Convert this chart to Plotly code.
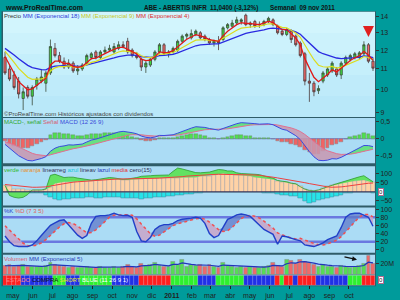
import numpy as np
import pandas as pd
import plotly.graph_objects as go

# ---------------- data ----------------
dates = pd.date_range("2010-04-19", periods=82, freq="7D")

prior_close = [12.6, 12.5, 12.7, 12.4, 12.3, 12.5, 12.4, 12.2, 12.3, 12.4, 12.2, 12.1, 12.3, 12.4, 12.2,
               12.3, 12.1, 12.2, 12.4, 12.3, 12.2, 12.1, 12.3, 12.2, 12.2, 12.3, 12.1, 12.2, 12.3, 12.2]

open_ = [11.6, 11.0, 10.7, 10.4, 9.6, 10.1, 9.7, 10.2, 10.4, 10.3,
         10.8, 12.1, 11.7, 11.4, 11.1, 11.3, 10.9, 11.0, 11.3, 11.6,
         11.9, 11.6, 11.9, 12.0, 11.9, 12.1, 12.3, 12.5, 12.0, 11.7,
         11.5, 11.1, 11.2, 11.5, 11.9, 12.3, 11.8, 11.9, 12.0, 12.5,
         12.8, 12.7, 12.9, 13.0, 12.8, 12.6, 12.4, 12.5, 12.6, 13.3,
         13.4, 13.6, 13.7, 14.1, 13.5, 13.7, 13.5, 13.5, 13.7, 13.8,
         13.4, 13.1, 12.9, 13.1, 12.8, 12.4, 11.8, 10.4, 10.3, 9.95,
         10.4, 10.7, 10.9, 11.0, 10.7, 11.3, 11.5, 11.6, 11.6, 11.8,
         12.3, 11.4]
high = [11.9, 11.2, 10.9, 10.6, 10.1, 10.2, 10.2, 10.6, 11.0, 10.9,
        12.6, 12.4, 11.9, 11.6, 11.5, 11.4, 11.2, 11.3, 11.8, 11.9,
        12.0, 12.0, 12.2, 12.3, 12.4, 12.5, 12.5, 12.7, 12.1, 11.9,
        11.6, 11.4, 11.6, 12.0, 12.4, 12.4, 12.0, 12.2, 12.6, 12.9,
        13.0, 13.2, 13.2, 13.1, 12.9, 12.7, 12.6, 12.8, 13.4, 13.6,
        13.8, 14.0, 13.9, 14.2, 13.7, 13.8, 13.7, 13.8, 14.0, 13.9,
        13.5, 13.2, 13.3, 13.2, 12.9, 12.5, 11.9, 10.8, 10.4, 10.2,
        10.9, 11.1, 11.4, 11.1, 11.4, 11.7, 11.8, 11.9, 11.95, 12.5,
        12.4, 11.6]
low = [10.7, 10.4, 10.0, 9.6, 9.1, 9.6, 9.3, 10.0, 10.3, 9.9,
       10.7, 11.6, 11.3, 11.0, 11.0, 10.8, 10.7, 10.9, 11.2, 11.5,
       11.5, 11.5, 11.8, 11.9, 11.8, 12.0, 12.1, 11.8, 11.6, 11.5,
       10.9, 10.8, 11.1, 11.4, 11.8, 11.7, 11.6, 11.8, 11.9, 12.4,
       12.6, 12.6, 12.8, 12.6, 12.5, 12.3, 12.2, 12.0, 12.5, 13.2,
       13.3, 13.5, 13.5, 13.4, 13.3, 13.3, 13.3, 13.4, 13.6, 13.4,
       12.9, 12.8, 12.8, 12.4, 12.2, 11.6, 10.2, 9.45, 9.7, 9.8,
       10.3, 10.6, 10.8, 10.6, 10.5, 11.2, 11.4, 11.5, 11.5, 11.7,
       11.3, 10.9]
close = [10.8, 10.5, 10.1, 9.8, 9.9, 9.7, 10.1, 10.5, 10.6, 10.8,
         12.2, 11.7, 11.4, 11.1, 11.3, 10.9, 11.0, 11.2, 11.7, 11.8,
         11.6, 11.9, 12.0, 12.1, 12.2, 12.3, 12.2, 11.9, 11.7, 11.6,
         11.1, 11.3, 11.5, 11.9, 12.3, 11.8, 11.9, 12.1, 12.5, 12.8,
         12.9, 12.95, 13.1, 12.7, 12.6, 12.4, 12.5, 12.4, 13.3, 13.5,
         13.6, 13.8, 13.8, 13.5, 13.6, 13.4, 13.5, 13.7, 13.9, 13.5,
         13.0, 12.9, 13.2, 12.6, 12.3, 11.7, 10.4, 10.3, 9.9, 10.05,
         10.8, 11.0, 11.3, 10.7, 11.3, 11.6, 11.7, 11.8, 11.85, 12.3,
         11.4, 11.04]

volume_m = [16, 17, 15, 16, 18, 15, 14, 15, 14, 16,
            22, 18, 16, 14, 13, 15, 13, 12, 14, 13,
            12, 14, 13, 12, 14, 13, 15, 17, 14, 13,
            19, 16, 18, 22, 16, 15, 14, 24, 18, 27,
            15, 17, 16, 18, 15, 17, 14, 13, 22, 16,
            14, 13, 15, 13, 14, 12, 13, 14, 16, 21,
            16, 14, 28, 25, 20, 28, 24, 21, 17, 15,
            18, 14, 15, 13, 16, 14, 13, 15, 16, 19,
            35, 19]

naranja = [34, 30, 16, 14, 12, 10, 10, 10, 10, 15,
           25, 45, 52, 55, 55, 55, 57, 58, 60, 60,
           62, 65, 68, 70, 70, 68, 66, 66, 68, 70,
           70, 72, 74, 75, 75, 76, 76, 75, 76, 78,
           78, 78, 80, 85, 87, 88, 92, 96, 100, 96,
           96, 92, 90, 90, 86, 80, 78, 76, 72, 68,
           60, 55, 52, 45, 42, 28, 15, 7, 5, 10,
           20, 28, 34, 40, 45, 52, 58, 60, 62, 65,
           58, 50]
verde = [36, -20, -30, -34, -30, -15, 10, 10, 10, 15,
         90, 96, 85, 78, 80, 80, 75, 70, 66, 64,
         66, 70, 76, 78, 76, 72, 68, 70, 72, 78,
         85, 85, 88, 90, 90, 88, 92, 112, 130, 125,
         118, 108, 105, 104, 106, 108, 115, 122, 120, 114,
         114, 104, 100, 100, 97, 96, 94, 86, 80, 75,
         62, 58, 55, 47, 44, 28, 15, 7, 5, 10,
         20, 28, 36, 44, 52, 60, 70, 78, 82, 88,
         70, 55]
azul = [0, 0, 0, -3, -5, -8, -8, -10, -8, -20,
        -30, -40, -45, -42, -38, -37, -36, -34, -32, -30,
        -34, -36, -30, -28, -28, -30, -34, -35, -34, -36,
        -38, -37, -34, -30, -28, -28, -25, -22, -20, -18,
        -15, -12, -10, -6, -4, -3, -3, -2, -2, -2,
        -2, -3, -3, -3, -3, -3, -4, -5, -8, -10,
        -12, -16, -18, -22, -22, -35, -50, -62, -58, -48,
        -40, -34, -28, -22, -16, -10, -6, -3, -2, -2,
        -4, -6]
media = [40, 37, 33, 30, 27, 25, 25, 25, 25, 27,
         32, 37, 42, 47, 50, 53, 55, 57, 60, 62,
         64, 66, 67, 68, 69, 70, 70, 70, 70, 71,
         72, 73, 73, 74, 75, 76, 77, 79, 81, 83,
         86, 88, 90, 92, 93, 94, 95, 96, 96, 96,
         96, 96, 95, 95, 94, 92, 90, 88, 85, 80,
         76, 72, 69, 66, 62, 56, 50, 45, 40, 35,
         30, 27, 25, 25, 27, 30, 34, 38, 42, 45,
         47, 48]

stoch_k_prior = [75, 70, 62, 55]
stoch_k = [34, 20, 10, 8, 8, 8, 12, 22, 35, 48,
           60, 66, 72, 74, 62, 48, 36, 28, 35, 65,
           82, 84, 84, 86, 90, 86, 84, 85, 80, 45,
           22, 20, 30, 50, 58, 62, 62, 65, 72, 75,
           76, 78, 80, 78, 65, 40, 30, 35, 55, 75,
           80, 86, 88, 86, 82, 72, 62, 50, 44, 38,
           14, 34, 32, 28, 25, 22, 12, 10, 8, 12,
           17, 25, 30, 34, 55, 80, 88, 90, 90, 86,
           80, 58]

estado = list("rrrr" + "bbbbbbb" + "ggg" + "bbb" + "ggggggg" + "bbbbbb" + "rrrrrrr" + "gggggg"
              + "bbbb" + "gggggg" + "bbbbbb" + "b" + "r" + "g" + "rr" + "b" + "rrrr" + "bbbbbbb"
              + "ggg" + "rrr")

month_ticks = pd.date_range("2010-05-01", "2011-10-01", freq="MS")
month_labels = ["may", "jun", "jul", "ago", "sep", "oct", "nov", "dic", "<b>2011</b>", "feb",
                "mar", "abr", "may", "jun", "jul", "ago", "sep", "oct"]

# ---------------- derived indicators ----------------
full = pd.Series(prior_close + close, dtype=float)
np_ = len(prior_close)


def ema(s, n):
    return s.ewm(span=n, adjust=False).mean()


e18 = ema(full, 18).values[np_:]
e9 = ema(full, 9).values[np_:]
e4 = ema(full, 4).values[np_:]
macd_full = ema(full, 12) - ema(full, 26)
sig_full = ema(macd_full, 9)
macd = macd_full.values[np_:]
sig = sig_full.values[np_:]
hist = macd - sig

kfull = pd.Series(stoch_k_prior + stoch_k, dtype=float)
stoch_d = kfull.rolling(5, min_periods=1).mean().values[len(stoch_k_prior):]
stoch_k_a = np.array(stoch_k, dtype=float)

vol = pd.Series(volume_m, dtype=float)
vol_ema = ema(vol, 5).values
up_week = np.array(close) >= np.array(open_)

nar = np.array(naranja, float)
ver = np.array(verde, float)
ver_base = np.where(ver >= 0, nar, 0)

W = 7 * 24 * 3600 * 1000

# ---------------- figure ----------------
fig = go.Figure()
FONT = "Liberation Sans, Arial, sans-serif"

# price panel
fig.add_trace(go.Candlestick(
    x=dates, open=open_, high=high, low=low, close=close, yaxis="y",
    increasing=dict(fillcolor="#3fd83f", line=dict(color="#3a4a3a", width=0.8)),
    decreasing=dict(fillcolor="#f26868", line=dict(color="#4a3a3a", width=0.8)),
    whiskerwidth=0, showlegend=False, hoverinfo="skip"))
fig.add_trace(go.Scatter(x=dates, y=e18, yaxis="y", mode="lines", line=dict(color="#2a2ae0", width=1.3)))
fig.add_trace(go.Scatter(x=dates, y=e9, yaxis="y", mode="lines", line=dict(color="#dcdc1e", width=1.2)))
fig.add_trace(go.Scatter(x=dates, y=e4, yaxis="y", mode="lines", line=dict(color="#e01818", width=1.3)))

# MACD panel
mx = np.maximum(macd, sig)
mn = np.minimum(macd, sig)
fig.add_trace(go.Scatter(x=dates, y=sig, yaxis="y2", mode="lines", line=dict(width=0)))
fig.add_trace(go.Scatter(x=dates, y=mx, yaxis="y2", mode="lines", line=dict(width=0),
                         fill="tonexty", fillcolor="rgba(90,225,110,0.85)"))
fig.add_trace(go.Scatter(x=dates, y=sig, yaxis="y2", mode="lines", line=dict(width=0)))
fig.add_trace(go.Scatter(x=dates, y=mn, yaxis="y2", mode="lines", line=dict(width=0),
                         fill="tonexty", fillcolor="rgba(200,150,175,0.85)"))
fig.add_trace(go.Bar(x=dates, y=hist, yaxis="y2", width=W * 0.8,
                     marker=dict(color=np.where(hist >= 0, "#4ee04e", "#f06464"),
                                 line=dict(width=0.4, color="#7a7a7a"))))
fig.add_trace(go.Scatter(x=dates, y=sig, yaxis="y2", mode="lines", line=dict(color="#e07090", width=1)))
fig.add_trace(go.Scatter(x=dates, y=macd, yaxis="y2", mode="lines", line=dict(color="#3a4ae0", width=1)))

# custom oscillator panel
fig.add_trace(go.Bar(x=dates, y=azul, yaxis="y3", width=W,
                     marker=dict(color="#27e3e8", line=dict(width=0.5, color="#3c8ca0"))))
fig.add_trace(go.Bar(x=dates, y=naranja, yaxis="y3", width=W,
                     marker=dict(color="#ffd2a6", line=dict(width=0.5, color="#a8a0a0"))))
fig.add_trace(go.Scatter(x=dates, y=ver_base, yaxis="y3", mode="lines", line=dict(width=0)))
fig.add_trace(go.Scatter(x=dates, y=verde, yaxis="y3", mode="lines",
                         line=dict(color="#2f9a2f", width=0.8), fill="tonexty", fillcolor="#62e262"))
fig.add_trace(go.Scatter(x=dates, y=media, yaxis="y3", mode="lines", line=dict(color="#ee4040", width=1)))

# stochastic panel
kx = np.maximum(stoch_k_a, stoch_d)
kn = np.minimum(stoch_k_a, stoch_d)
fig.add_trace(go.Scatter(x=dates, y=stoch_d, yaxis="y4", mode="lines", line=dict(width=0)))
fig.add_trace(go.Scatter(x=dates, y=kx, yaxis="y4", mode="lines", line=dict(width=0),
                         fill="tonexty", fillcolor="rgba(95,120,200,0.75)"))
fig.add_trace(go.Scatter(x=dates, y=stoch_d, yaxis="y4", mode="lines", line=dict(width=0)))
fig.add_trace(go.Scatter(x=dates, y=kn, yaxis="y4", mode="lines", line=dict(width=0),
                         fill="tonexty", fillcolor="rgba(200,165,200,0.85)"))
fig.add_trace(go.Scatter(x=dates, y=stoch_d, yaxis="y4", mode="lines",
                         line=dict(color="#f05050", width=1.5, dash="dot")))
fig.add_trace(go.Scatter(x=dates, y=stoch_k, yaxis="y4", mode="lines", line=dict(color="#2040c8", width=1.4)))

# volume panel
fig.add_trace(go.Bar(x=dates, y=volume_m, yaxis="y5", width=W * 0.85,
                     marker=dict(color=np.where(up_week, "#55dd55", "#ee6a6a"),
                                 line=dict(width=0.5, color="#888888"))))
fig.add_trace(go.Scatter(x=dates, y=vol_ema, yaxis="y5", mode="lines", line=dict(color="#2233bb", width=1.2)))

# state band
cmap = {"r": "#ff1e1e", "b": "#2030e6", "g": "#2ef02e"}
fig.add_trace(go.Bar(x=dates, y=[1] * len(estado), yaxis="y6", width=W,
                     marker=dict(color=[cmap[s] for s in estado], line=dict(width=0.4, color="rgba(255,255,255,0.35)"))))


# ---------------- layout ----------------
def py(p):
    return 1 - p / 300.0


XL, XR = 3, 375
panels = {"y": (10, 117), "y2": (118, 164), "y3": (167, 207), "y4": (209, 255), "y5": (257, 277), "y6": (278, 288)}

axfont = dict(family=FONT, size=7, color="#222222")
common = dict(side="right", anchor="x", showgrid=False, zeroline=False, ticks="outside", ticklen=3,
              tickcolor="#333333", tickfont=axfont, showline=False, fixedrange=True)


def dom(k):
    a, b = panels[k]
    return [py(b), py(a)]


layout_axes = dict(
    xaxis=dict(domain=[XL / 400, XR / 400], anchor="y6", type="date",
               range=[dates[0] - pd.Timedelta(hours=74), dates[-1] + pd.Timedelta(hours=74)],
               tickvals=month_ticks, ticktext=month_labels, ticks="outside", ticklen=3, tickcolor="#222",
               tickfont=axfont, showgrid=False, zeroline=False, showline=False, rangeslider=dict(visible=False)),
    yaxis=dict(domain=dom("y"), type="log", range=[np.log10(8.81), np.log10(14.32)],
               tickvals=[9, 10, 11, 12, 13, 14], **common),
    yaxis2=dict(domain=dom("y2"), range=[-0.714, 0.6], tickvals=[-0.5, 0, 0.5],
                ticktext=["-0,5", "0", "0,5"], **common),
    yaxis3=dict(domain=dom("y3"), range=[-75, 140], tickvals=[-50, 50, 100], **common),
    yaxis4=dict(domain=dom("y4"), range=[-7.3, 104], tickvals=[0, 20, 40, 60, 80, 100], **common),
    yaxis5=dict(domain=dom("y5"), range=[0, 36.4], tickvals=[20], ticktext=["20M"], **common),
    yaxis6=dict(domain=dom("y6"), range=[0, 1], showticklabels=False, **{k: v for k, v in common.items() if k not in ("ticks",)}),
)
layout_axes["yaxis6"]["ticks"] = ""

shapes = []
# dark frame
shapes.append(dict(type="rect", xref="paper", yref="paper", x0=1.5 / 400, x1=376 / 400, y0=py(289), y1=py(9.5),
                   fillcolor="#2f5c68", line=dict(width=0), layer="below"))
# price panel background (slight vertical gradient)
grad = ["#d2f5fd", "#ccf2fc", "#c5effb", "#bfebfa", "#b9e8f9"]
for i, col in enumerate(grad):
    a = 10 + i * 107 / len(grad)
    b = 10 + (i + 1) * 107 / len(grad)
    shapes.append(dict(type="rect", xref="paper", yref="paper", x0=XL / 400, x1=XR / 400, y0=py(b), y1=py(a),
                       fillcolor=col, line=dict(width=0), layer="below"))
for k, (a, b) in panels.items():
    if k == "y":
        continue
    shapes.append(dict(type="rect", xref="paper", yref="paper", x0=XL / 400, x1=XR / 400, y0=py(b), y1=py(a),
                       fillcolor="#abdcf5", line=dict(width=0), layer="below"))
# reference lines
shapes.append(dict(type="line", xref="paper", yref="y2", x0=XL / 400, x1=XR / 400, y0=0, y1=0,
                   line=dict(color="#6f80d8", width=1), layer="below"))
shapes.append(dict(type="line", xref="paper", yref="y3", x0=XL / 400, x1=XR / 400, y0=0, y1=0,
                   line=dict(color="#2a2a55", width=1)))
for lv in (80, 20):
    shapes.append(dict(type="line", xref="paper", yref="y4", x0=XL / 400, x1=XR / 400, y0=lv, y1=lv,
                       line=dict(color="#6a78e0", width=2.5), layer="below"))

ann = []


def txt(x, y, t, size=6, color="#333", bold=False, anchor="left"):
    ann.append(dict(xref="paper", yref="paper", x=x / 400, y=py(y), text=("<b>%s</b>" % t) if bold else t,
                    showarrow=False, xanchor=anchor, yanchor="middle", borderpad=0,
                    font=dict(family=FONT, size=size, color=color)))


txt(4, 6, "www.ProRealTime.com", 7, "#111", True)
txt(143, 6, "ABE - ABERTIS INFR", 6.3, "#111", True)
txt(209, 6, "11,0400 (-3,12%)", 6.3, "#111", True)
txt(269, 6, "Semanal  09 nov 2011", 6.3, "#111", True)

txt(3, 14, "Precio <span style='color:#2a3ad8'>MM (Exponencial 18)</span> "
           "<span style='color:#c8c818'>MM (Exponencial 9)</span> "
           "<span style='color:#e02828'>MM (Exponencial 4)</span>", 6, "#333")
txt(3, 113.5, "©ProRealTime.com Históricos ajustados con dividendos", 6, "#444")
txt(3, 122, "<span style='color:#2ea82e'>MACD-, señal</span> <span style='color:#d85a70'>Señal</span> "
            "<span style='color:#3a4ad8'>MACD (12 26 9)</span>", 6, "#333")
txt(3, 171, "<span style='color:#2eb82e'>verde</span> <span style='color:#e8902a'>naranja</span> "
            "<span style='color:#333355'>linearreg</span> <span style='color:#18c8d8'>azul</span> "
            "<span style='color:#333355'>lineav</span> <span style='color:#2a3ab8'>lazul</span> "
            "<span style='color:#e03030'>media</span> <span style='color:#333355'>cero(15)</span>", 6, "#333")
txt(3, 212.5, "<span style='color:#2a3ac8'>%K</span> <span style='color:#e06060'>%D (7 3 5)</span>", 6, "#333")
txt(3, 261, "<span style='color:#e05a70'>Volumen</span> <span style='color:#2a3ab8'>MM (Exponencial 5)</span>", 6, "#333")
txt(5, 283, "<span style='color:#ff8080'>ESTADO</span> <span style='color:#111'>COMPRA</span> "
            "<span style='color:#e8e020'>SHORT</span> <span style='color:#ffffff'>BLUE (11 26 9 1)</span>", 6, "#333")

# boxed current-value labels
for yy in (193, 283):
    ann.append(dict(xref="paper", yref="paper", x=378 / 400, y=py(yy), text="0", showarrow=False,
                    xanchor="left", yanchor="middle", font=dict(family=FONT, size=6, color="#222"),
                    bgcolor="#ffffff", bordercolor="#b06a90", borderwidth=1, borderpad=0))

# red arrow on price
ann.append(dict(x=dates[80], y=np.log10(12.75), xref="x", yref="y", text="", showarrow=True,
                arrowhead=2, arrowsize=1, arrowwidth=2.2, arrowcolor="#e02020", ax=0, ay=-7))
# black arrow on volume
ann.append(dict(xref="paper", yref="paper", x=357 / 400, y=py(262), text="", showarrow=True,
                arrowhead=2, arrowsize=0.8, arrowwidth=1.2, arrowcolor="#111", ax=-14, ay=-3))

fig.update_layout(
    width=400, height=300, margin=dict(l=0, r=0, t=0, b=0),
    paper_bgcolor="#009b9b", plot_bgcolor="rgba(0,0,0,0)",
    showlegend=False, barmode="overlay", bargap=0,
    shapes=shapes, annotations=ann, font=dict(family=FONT, size=7), **layout_axes)

fig.write_html("out.html")
